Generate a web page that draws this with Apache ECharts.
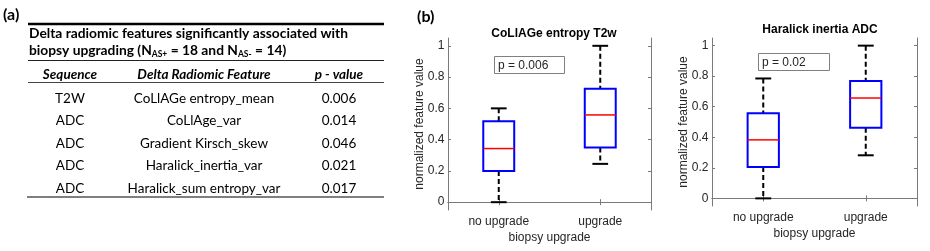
<!DOCTYPE html>
<html>
<head>
<meta charset="utf-8">
<script src="https://cdn.jsdelivr.net/npm/echarts@6/dist/echarts.min.js"></script>
<style>html,body{margin:0;padding:0;background:#fff}#c{width:930px;height:251px}</style>
</head>
<body>
<div id="c"></div>
<script>
// ---- Table (a) content ----
const tableTitle1 = 'Delta radiomic features significantly associated with';
const tableHeaders = ['Sequence', 'Delta Radiomic Feature', 'p - value'];
const sequences = ['T2W', 'ADC', 'ADC', 'ADC', 'ADC'];
const features = ['CoLlAGe entropy_mean', 'CoLlAge_var', 'Gradient Kirsch_skew', 'Haralick_inertia_var', 'Haralick_sum entropy_var'];
const pValues = ['0.006', '0.014', '0.046', '0.021', '0.017'];

// ---- Box plots (b) ----
const categories = ['no upgrade', 'upgrade'];
const yTicks = [0, 0.2, 0.4, 0.6, 0.8, 1];
const yTickLabels = ['0', '0.2', '0.4', '0.6', '0.8', '1'];
const chartTitles = ['CoLlAGe entropy T2w', 'Haralick inertia ADC'];
const pTexts = ['p = 0.006', 'p = 0.02'];
// [min, q1, median, q3, max] per category
const colliageLow = [0.0, 0.245];
const colliageQ1 = [0.20, 0.35];
const colliageMed = [0.343, 0.558];
const colliageQ3 = [0.518, 0.725];
const colliageHigh = [0.60, 1.0];
const haralickLow = [0.0, 0.282];
const haralickQ1 = [0.205, 0.463];
const haralickMed = [0.383, 0.657];
const haralickQ3 = [0.558, 0.768];
const haralickHigh = [0.785, 1.0];

const TXT = '#262626';
const AX = '#7a7a7a';
const TF = 'Lato';

function boxData(lo, q1, md, q3, hi) {
  return categories.map((c, i) => [i, lo[i], q1[i], md[i], q3[i], hi[i]]);
}

function renderBox(params, api) {
  const x = api.value(0);
  const lo = api.coord([x, api.value(1)]);
  const q1 = api.coord([x, api.value(2)]);
  const md = api.coord([x, api.value(3)]);
  const q3 = api.coord([x, api.value(4)]);
  const hi = api.coord([x, api.value(5)]);
  const band = api.size([1, 0])[0];
  const bw = band * 0.305, cw = band * 0.155;
  const cx = md[0];
  const dash = {stroke: '#000', lineWidth: 2, lineDash: [5, 3]};
  const solid = {stroke: '#000', lineWidth: 2};
  return {type: 'group', children: [
    {type: 'line', shape: {x1: cx, y1: hi[1], x2: cx, y2: q3[1]}, style: dash},
    {type: 'line', shape: {x1: cx, y1: q1[1], x2: cx, y2: lo[1]}, style: dash},
    {type: 'line', shape: {x1: cx - cw / 2, y1: hi[1], x2: cx + cw / 2, y2: hi[1]}, style: solid},
    {type: 'line', shape: {x1: cx - cw / 2, y1: lo[1], x2: cx + cw / 2, y2: lo[1]}, style: solid},
    {type: 'rect', shape: {x: cx - bw / 2, y: q3[1], width: bw, height: q1[1] - q3[1]}, style: {fill: '#fff', stroke: '#0000ff', lineWidth: 2}},
    {type: 'line', shape: {x1: cx - bw / 2, y1: md[1], x2: cx + bw / 2, y2: md[1]}, style: {stroke: '#ff0000', lineWidth: 1.5}}
  ]};
}

const grids = [
  {left: 448, top: 38, width: 203, height: 172},
  {left: 712, top: 38, width: 205, height: 168}
];

const xAxes = [], yAxes = [];
grids.forEach((g, gi) => {
  ['bottom', 'top'].forEach(pos => {
    xAxes.push({
      type: 'category', gridIndex: gi, position: pos, data: categories,
      axisLine: {lineStyle: {color: AX, width: 1}},
      axisTick: {show: true, inside: true, length: 3, alignWithLabel: true, lineStyle: {color: AX}},
      axisLabel: {show: pos === 'bottom', color: TXT, fontFamily: 'Liberation Sans', fontSize: 12, margin: 6},
      name: pos === 'bottom' ? 'biopsy upgrade' : '',
      nameLocation: 'middle', nameGap: 22, nameMoveOverlap: false,
      nameTextStyle: {color: TXT, fontFamily: 'Liberation Sans', fontSize: 12}
    });
  });
  ['left', 'right'].forEach(pos => {
    yAxes.push({
      type: 'value', gridIndex: gi, position: pos, min: -0.05, max: 1.05,
      splitLine: {show: false},
      axisLine: {show: true, lineStyle: {color: AX, width: 1}},
      axisTick: {show: true, inside: true, length: 3, customValues: yTicks, lineStyle: {color: AX}},
      axisLabel: {show: pos === 'left', customValues: yTicks, color: TXT, fontFamily: 'Liberation Sans', fontSize: 12, margin: 3.5,
        formatter: v => yTickLabels[yTicks.findIndex(t => Math.abs(t - v) < 1e-9)]},
      name: pos === 'left' ? 'normalized feature value' : '',
      nameLocation: 'middle', nameGap: 22, nameRotate: 90, nameMoveOverlap: false,
      nameTextStyle: {color: TXT, fontFamily: 'Liberation Sans', fontSize: 12}
    });
  });
});

const series = [
  {type: 'custom', xAxisIndex: 0, yAxisIndex: 0, renderItem: renderBox,
   encode: {x: 0, y: [1, 2, 3, 4, 5]}, data: boxData(colliageLow, colliageQ1, colliageMed, colliageQ3, colliageHigh), silent: true},
  {type: 'custom', xAxisIndex: 2, yAxisIndex: 2, renderItem: renderBox,
   encode: {x: 0, y: [1, 2, 3, 4, 5]}, data: boxData(haralickLow, haralickQ1, haralickMed, haralickQ3, haralickHigh), silent: true}
];

// Table graphics
const g = [];
g.push({type: 'text', left: 3, top: 7, style: {text: '(a)', font: 'bold 16px ' + TF, fill: '#000'}});
g.push({type: 'text', left: 417, top: 9, style: {text: '(b)', font: 'bold 16px ' + TF, fill: '#000'}});
g.push({type: 'line', shape: {x1: 28, y1: 24, x2: 384, y2: 24}, style: {stroke: '#000', lineWidth: 2.5}});
g.push({type: 'text', x: 29, y: 34, style: {text: tableTitle1, font: 'bold 13.8px ' + TF, fill: '#000', textVerticalAlign: 'middle'}});
g.push({type: 'text', x: 29, y: 51, style: {
  text: 'biopsy upgrading (N{s|AS+} = 18 and N{s|AS-} = 14)',
  font: 'bold 13.8px ' + TF, fill: '#000', textVerticalAlign: 'middle',
  rich: {s: {font: 'bold 8.5px ' + TF, fill: '#000', padding: [7, 0, 0, 0]}}
}});
g.push({type: 'line', shape: {x1: 28, y1: 60.5, x2: 384, y2: 60.5}, style: {stroke: '#222', lineWidth: 1}});
const colX = [70, 204, 339];
tableHeaders.forEach((h, i) => g.push({type: 'text', x: colX[i], y: 75, style: {text: h, font: 'italic bold 13.5px ' + TF, fill: '#000', textAlign: 'center', textVerticalAlign: 'middle'}}));
g.push({type: 'line', shape: {x1: 28, y1: 82.5, x2: 384, y2: 82.5}, style: {stroke: '#444', lineWidth: 1}});
const rowY = [98.5, 121, 143.5, 166, 188.5];
sequences.forEach((s, i) => {
  g.push({type: 'text', x: colX[0], y: rowY[i], style: {text: s, font: '13.5px ' + TF, fill: '#000', textAlign: 'center', textVerticalAlign: 'middle'}});
  g.push({type: 'text', x: colX[1], y: rowY[i], style: {text: features[i], font: '13.5px ' + TF, fill: '#000', textAlign: 'center', textVerticalAlign: 'middle'}});
  g.push({type: 'text', x: colX[2], y: rowY[i], style: {text: pValues[i], font: '13.5px ' + TF, fill: '#000', textAlign: 'center', textVerticalAlign: 'middle'}});
});
g.push({type: 'line', shape: {x1: 27, y1: 197, x2: 384, y2: 197}, style: {stroke: '#555', lineWidth: 1.5}});

// p-value boxes
const pBoxes = [{x: 494, y: 56, w: 70, h: 17}, {x: 758, y: 53, w: 71, h: 17}];
pBoxes.forEach((b, i) => {
  g.push({type: 'rect', shape: {x: b.x + 0.5, y: b.y + 0.5, width: b.w, height: b.h}, style: {fill: '#fff', stroke: '#808080', lineWidth: 1}, z: 10});
  g.push({type: 'text', x: b.x + 4, y: b.y + b.h / 2 + 1.5, style: {text: pTexts[i], font: '12px Liberation Sans', fill: TXT, textVerticalAlign: 'middle'}, z: 11});
});

const chart = echarts.init(document.getElementById('c'), null, {renderer: 'canvas'});
chart.setOption({
  animation: false,
  backgroundColor: '#fff',
  title: [
    {text: chartTitles[0], left: 549, top: 23, textAlign: 'center', textStyle: {fontFamily: 'Liberation Sans', fontWeight: 'bold', fontSize: 12, color: '#000'}},
    {text: chartTitles[1], left: 815, top: 19, textAlign: 'center', textStyle: {fontFamily: 'Liberation Sans', fontWeight: 'bold', fontSize: 12, color: '#000'}}
  ],
  grid: grids,
  xAxis: xAxes,
  yAxis: yAxes,
  series: series,
  graphic: g
});
</script>
</body>
</html>
